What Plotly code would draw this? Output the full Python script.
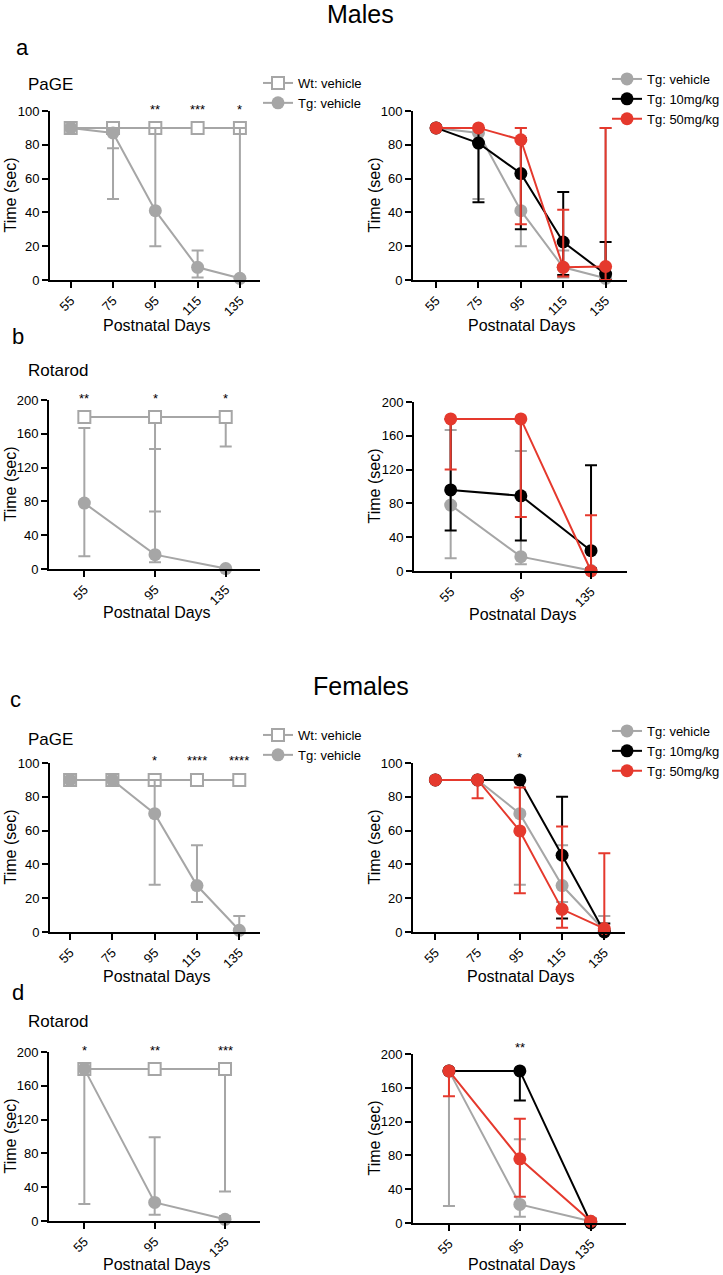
import plotly.graph_objects as go

# ---------------- data ----------------
days5 = [55, 75, 95, 115, 135]
days3 = [55, 95, 135]

# Males PaGE
m_page_wt = [90, 90, 90, 90, 90]
m_page_wt_hi = [90, 90, 90, 90, 90]
m_page_wt_lo = [90, 78, 90, 90, 90]
m_page_tg = [90, 87, 41, 7.5, 1]
m_page_tg_hi = [90, 90, 90, 17.5, 90]
m_page_tg_lo = [90, 48, 20, 1.5, 0]
m_page_10 = [90, 81, 63, 22.5, 3.5]
m_page_10_hi = [90, 90, 84, 52, 22.5]
m_page_10_lo = [90, 46, 30, 3, 0]
m_page_50 = [90, 90, 83, 7.5, 8]
m_page_50_hi = [90, 90, 90, 41.5, 90]
m_page_50_lo = [90, 90, 33, 2, 0]

# Males Rotarod
m_rr_wt = [180, 180, 180]
m_rr_wt_hi = [180, 180, 180]
m_rr_wt_lo = [180, 68, 145]
m_rr_tg = [78, 17, 0.5]
m_rr_tg_hi = [167, 142, 0.5]
m_rr_tg_lo = [15, 8, 0]
m_rr_10 = [96, 89, 24]
m_rr_10_hi = [180, 180, 125]
m_rr_10_lo = [48, 36, 3]
m_rr_50 = [180, 180, 0]
m_rr_50_hi = [180, 180, 66]
m_rr_50_lo = [120, 64, 0]

# Females PaGE
f_page_wt = [90, 90, 90, 90, 90]
f_page_wt_hi = [90, 90, 90, 90, 90]
f_page_wt_lo = [90, 90, 90, 90, 90]
f_page_tg = [90, 90, 70, 27.5, 1]
f_page_tg_hi = [90, 90, 90, 51.3, 9.5]
f_page_tg_lo = [90, 90, 28, 17.8, 0]
f_page_10 = [90, 90, 90, 45.4, 0]
f_page_10_hi = [90, 90, 90, 80, 5]
f_page_10_lo = [90, 90, 90, 8, 0]
f_page_50 = [90, 90, 59.8, 13.4, 2]
f_page_50_hi = [90, 90, 85.5, 62.4, 46.6]
f_page_50_lo = [90, 79.2, 22.9, 2.5, 0]

# Females Rotarod
f_rr_wt = [180, 180, 180]
f_rr_wt_hi = [180, 180, 180]
f_rr_wt_lo = [180, 180, 35]
f_rr_tg = [180, 22, 2]
f_rr_tg_hi = [180, 99, 6]
f_rr_tg_lo = [20, 7.5, 0]
f_rr_10 = [180, 180, 0]
f_rr_10_hi = [180, 180, 3]
f_rr_10_lo = [180, 145, 0]
f_rr_50 = [180, 76, 2]
f_rr_50_hi = [180, 123.5, 5]
f_rr_50_lo = [150, 31, 0]

# significance stars
stars_a = ["", "", "**", "***", "*"]
stars_b = ["**", "*", "*"]
stars_c_left = ["", "", "*", "****", "****"]
stars_c_right = ["", "", "*", "", ""]
stars_d_left = ["*", "**", "***"]
stars_d_right = ["", "**", ""]

page_ticks = [0, 20, 40, 60, 80, 100]
rr_ticks = [0, 40, 80, 120, 160, 200]

# ---------------- style ----------------
W, H = 723, 1275
FONT = "Liberation Sans, Arial, sans-serif"
GRAY = "#a6a6a6"
BLACK = "#000000"
RED = "#e5392d"


def fx(px):
    return px / W


def fy(py):
    return 1 - py / H


fig = go.Figure()

# panel layout: (id, x0, x1, ytop, ybottom, xrange, yrange, xticks, yticks, xtitle_y)
panels = [
    (1, 50, 260, 111, 280, [45.2, 144.5], [0, 100], days5, page_ticks, 325),
    (2, 413, 627, 111, 280, [44.1, 145.1], [0, 100], days5, page_ticks, 325),
    (3, 49, 260, 400, 569, [35.0, 154.4], [0, 200], days3, rr_ticks, 613),
    (4, 414, 627, 402, 571, [34.1, 155.5], [0, 200], days3, rr_ticks, 614),
    (5, 50, 260, 763, 932, [45.5, 144.8], [0, 100], days5, page_ticks, 976),
    (6, 413, 625, 763, 932, [44.4, 144.8], [0, 100], days5, page_ticks, 976),
    (7, 49, 260, 1052, 1221, [34.9, 154.9], [0, 200], days3, rr_ticks, 1264),
    (8, 413, 626, 1054, 1223, [34.7, 154.9], [0, 200], days3, rr_ticks, 1264),
]

for pid, x0, x1, yt, yb, xr, yr, xtv, ytv, _ in panels:
    sfx = "" if pid == 1 else str(pid)
    fig.layout["xaxis" + sfx] = dict(
        domain=[fx(x0), fx(x1)], range=xr, anchor="y" + sfx,
        tickmode="array", tickvals=xtv, ticktext=[str(v) for v in xtv],
        tickangle=-45, ticks="outside", ticklen=6, tickwidth=2, tickcolor="black",
        showline=True, linecolor="black", linewidth=2, showgrid=False, zeroline=False,
        tickfont=dict(family=FONT, size=13, color="black"), fixedrange=True,
    )
    fig.layout["yaxis" + sfx] = dict(
        domain=[fy(yb), fy(yt)], range=yr, anchor="x" + sfx,
        tickmode="array", tickvals=ytv, ticks="outside", ticklen=6, tickwidth=2,
        tickcolor="black", showline=True, linecolor="black", linewidth=2,
        showgrid=False, zeroline=False,
        tickfont=dict(family=FONT, size=13, color="black"), fixedrange=True,
    )


def add_series(pid, x, y, hi, lo, color, name, square=False, legend=None):
    sfx = "" if pid == 1 else str(pid)
    plus = [h - v for h, v in zip(hi, y)]
    minus = [v - l for v, l in zip(y, lo)]
    if square:
        marker = dict(symbol="square", size=12, color="white",
                      line=dict(color=color, width=2))
    else:
        marker = dict(symbol="circle", size=13, color=color, line=dict(width=0))
    fig.add_trace(go.Scatter(
        x=x, y=y, mode="lines+markers", name=name,
        line=dict(color=color, width=2), marker=marker,
        error_y=dict(type="data", symmetric=False, array=plus, arrayminus=minus,
                     color=color, thickness=2, width=6),
        xaxis="x" + sfx, yaxis="y" + sfx, cliponaxis=False,
        showlegend=legend is not None, legend=legend if legend else "legend",
    ))


# a
add_series(1, days5, m_page_wt, m_page_wt_hi, m_page_wt_lo, GRAY, "Wt: vehicle", True, "legend")
add_series(1, days5, m_page_tg, m_page_tg_hi, m_page_tg_lo, GRAY, "Tg: vehicle", False, "legend")
add_series(2, days5, m_page_tg, m_page_tg_hi, m_page_tg_lo, GRAY, "Tg: vehicle", False, "legend2")
add_series(2, days5, m_page_10, m_page_10_hi, m_page_10_lo, BLACK, "Tg: 10mg/kg", False, "legend2")
add_series(2, days5, m_page_50, m_page_50_hi, m_page_50_lo, RED, "Tg: 50mg/kg", False, "legend2")
# b
add_series(3, days3, m_rr_wt, m_rr_wt_hi, m_rr_wt_lo, GRAY, "Wt: vehicle", True)
add_series(3, days3, m_rr_tg, m_rr_tg_hi, m_rr_tg_lo, GRAY, "Tg: vehicle")
add_series(4, days3, m_rr_tg, m_rr_tg_hi, m_rr_tg_lo, GRAY, "Tg: vehicle")
add_series(4, days3, m_rr_10, m_rr_10_hi, m_rr_10_lo, BLACK, "Tg: 10mg/kg")
add_series(4, days3, m_rr_50, m_rr_50_hi, m_rr_50_lo, RED, "Tg: 50mg/kg")
# c
add_series(5, days5, f_page_wt, f_page_wt_hi, f_page_wt_lo, GRAY, "Wt: vehicle", True, "legend3")
add_series(5, days5, f_page_tg, f_page_tg_hi, f_page_tg_lo, GRAY, "Tg: vehicle", False, "legend3")
add_series(6, days5, f_page_tg, f_page_tg_hi, f_page_tg_lo, GRAY, "Tg: vehicle", False, "legend4")
add_series(6, days5, f_page_10, f_page_10_hi, f_page_10_lo, BLACK, "Tg: 10mg/kg", False, "legend4")
add_series(6, days5, f_page_50, f_page_50_hi, f_page_50_lo, RED, "Tg: 50mg/kg", False, "legend4")
# d
add_series(7, days3, f_rr_wt, f_rr_wt_hi, f_rr_wt_lo, GRAY, "Wt: vehicle", True)
add_series(7, days3, f_rr_tg, f_rr_tg_hi, f_rr_tg_lo, GRAY, "Tg: vehicle")
add_series(8, days3, f_rr_tg, f_rr_tg_hi, f_rr_tg_lo, GRAY, "Tg: vehicle")
add_series(8, days3, f_rr_10, f_rr_10_hi, f_rr_10_lo, BLACK, "Tg: 10mg/kg")
add_series(8, days3, f_rr_50, f_rr_50_hi, f_rr_50_lo, RED, "Tg: 50mg/kg")

ann = []


def text(px, py, s, size, angle=0, anchor="center"):
    ann.append(dict(x=fx(px), y=fy(py), xref="paper", yref="paper", text=s,
                    showarrow=False, textangle=angle, xanchor=anchor, yanchor="middle",
                    font=dict(family=FONT, size=size, color="black")))


# section titles
text(360, 14, "Males", 25)
text(361, 686, "Females", 25)
# panel letters
text(14, 48, "a", 22, anchor="left")
text(10, 336, "b", 22, anchor="left")
text(8, 699, "c", 22, anchor="left")
text(10, 992, "d", 22, anchor="left")
# test names
text(26, 84, "PaGE", 17, anchor="left")
text(26, 370, "Rotarod", 17, anchor="left")
text(26, 739, "PaGE", 17, anchor="left")
text(26, 1022, "Rotarod", 17, anchor="left")
# axis titles
for pid, x0, x1, yt, yb, xr, yr, xtv, ytv, xty in panels:
    ytitle_x = 10 if x0 < 200 else 374
    text(ytitle_x, (yt + yb) / 2, "Time (sec)", 16, angle=-90)
    text((x0 + x1) / 2 + 2, xty, "Postnatal Days", 16)


def stars(pid, xs, labels, ydom):
    sfx = "" if pid == 1 else str(pid)
    for xv, lab in zip(xs, labels):
        if lab:
            ann.append(dict(x=xv, y=ydom, xref="x" + sfx, yref="y" + sfx + " domain",
                            text=lab, showarrow=False, yanchor="middle",
                            font=dict(family=FONT, size=13, color="black")))


stars(1, days5, stars_a, 1.009)
stars(3, days3, stars_b, 1.009)
stars(5, days5, stars_c_left, 1.013)
stars(6, days5, stars_c_right, 1.033)
stars(7, days3, stars_d_left, 1.009)
stars(8, days3, stars_d_right, 1.038)

leg_common = dict(font=dict(family=FONT, size=13, color="black"), bgcolor="rgba(0,0,0,0)",
                  xanchor="left", yanchor="top", tracegroupgap=0, itemclick=False,
                  itemdoubleclick=False)

fig.update_layout(
    width=W, height=H,
    margin=dict(l=0, r=0, t=0, b=0, autoexpand=False),
    paper_bgcolor="white", plot_bgcolor="white",
    annotations=ann,
    legend=dict(x=fx(258), y=fy(68), **leg_common),
    legend2=dict(x=fx(607), y=fy(64), **leg_common),
    legend3=dict(x=fx(258), y=fy(720), **leg_common),
    legend4=dict(x=fx(607), y=fy(716), **leg_common),
)

fig.write_html(
    "out.html",
    config={"displayModeBar": False},
    post_script="document.body.style.margin='0px';document.body.style.padding='0px';",
)
